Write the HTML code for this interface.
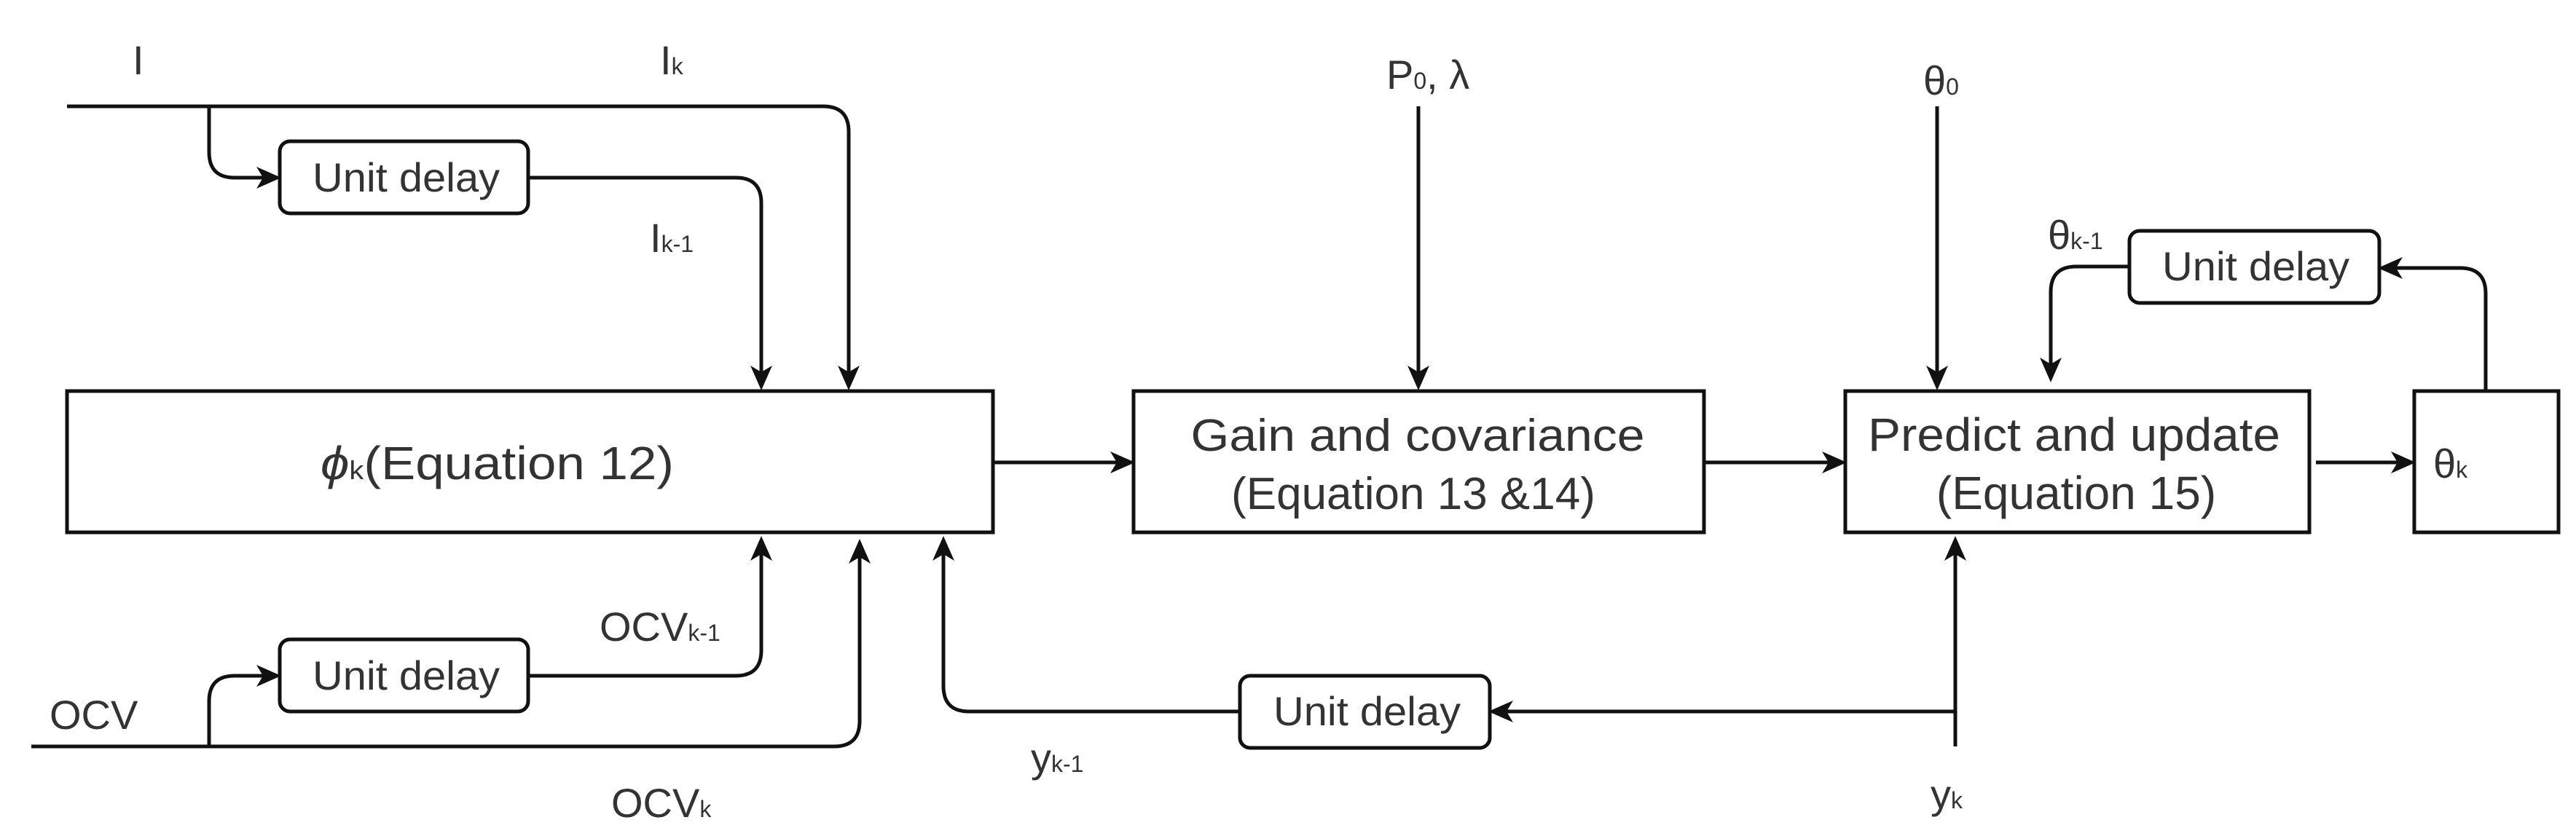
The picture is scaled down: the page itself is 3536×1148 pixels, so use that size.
<!DOCTYPE html>
<html><head><meta charset="utf-8"><style>
html,body{margin:0;padding:0;background:#fff}
svg{display:block}
text{font-family:"Liberation Sans",Arial,sans-serif;fill:#333}
</style></head><body>
<svg width="3536" height="1148" viewBox="0 0 3536 1148" xmlns="http://www.w3.org/2000/svg">
<g fill="none" stroke="#111" stroke-width="5">
<rect x="92" y="537" width="1271" height="194"/>
<rect x="1556" y="537" width="783" height="194"/>
<rect x="2533" y="537" width="637" height="194"/>
<rect x="3314" y="537" width="198" height="194"/>
<rect x="384" y="194" width="341" height="99" rx="14"/>
<rect x="384" y="878" width="341" height="99" rx="14"/>
<rect x="1702" y="928" width="343" height="99" rx="14"/>
<rect x="2923" y="317" width="343" height="99" rx="14"/>
<path d="M92 146 H1130 Q1165 146 1165 181 V512"/>
<path d="M287 146 V209 Q287 244 322 244 H362"/>
<path d="M725 244 H1010 Q1045 244 1045 279 V512"/>
<path d="M287 1025 V963 Q287 928 322 928 H362"/>
<path d="M43 1025 H1145 Q1180 1025 1180 990 V764"/>
<path d="M725 928 H1010 Q1045 928 1045 893 V760"/>
<path d="M1702 977 H1330 Q1295 977 1295 942 V760"/>
<path d="M2684 1025 V760"/>
<path d="M2684 977 H2067"/>
<path d="M1363 635 H1534"/>
<path d="M2339 635 H2511"/>
<path d="M3179 635 H3292"/>
<path d="M1947 146 V512"/>
<path d="M2659 146 V512"/>
<path d="M3412 537 V403 Q3412 368 3377 368 H3288"/>
<path d="M2923 366 H2850 Q2815 366 2815 401 V501"/>
</g>
<g fill="#111">
<polygon points="1165,536 1150,502 1165,511 1180,502"/>
<polygon points="1045,536 1030,502 1045,511 1060,502"/>
<polygon points="1947,536 1932,502 1947,511 1962,502"/>
<polygon points="2659,536 2644,502 2659,511 2674,502"/>
<polygon points="2815,525 2800,491 2815,500 2830,491"/>
<polygon points="1045,736 1030,770 1045,761 1060,770"/>
<polygon points="1180,740 1165,774 1180,765 1195,774"/>
<polygon points="1295,736 1280,770 1295,761 1310,770"/>
<polygon points="2684,736 2669,770 2684,761 2699,770"/>
<polygon points="386,244 352,229 361,244 352,259"/>
<polygon points="386,928 352,913 361,928 352,943"/>
<polygon points="1558,635 1524,620 1533,635 1524,650"/>
<polygon points="2535,635 2501,620 2510,635 2501,650"/>
<polygon points="3316,635 3282,620 3291,635 3282,650"/>
<polygon points="2043,977 2077,962 2068,977 2077,992"/>
<polygon points="3264,368 3298,353 3289,368 3298,383"/>
</g>
<g font-size="56">
<text x="429" y="263" textLength="257" lengthAdjust="spacingAndGlyphs">Unit delay</text>
<text x="429" y="947" textLength="257" lengthAdjust="spacingAndGlyphs">Unit delay</text>
<text x="1748" y="996" textLength="257" lengthAdjust="spacingAndGlyphs">Unit delay</text>
<text x="2968" y="385" textLength="257" lengthAdjust="spacingAndGlyphs">Unit delay</text>
</g>
<text x="440" y="658" font-size="64" textLength="485" lengthAdjust="spacingAndGlyphs"><tspan font-style="italic">ϕ</tspan><tspan font-size="36">k</tspan>(Equation 12)</text>
<text x="1946" y="619" font-size="62" text-anchor="middle" textLength="623" lengthAdjust="spacingAndGlyphs">Gain and covariance</text>
<text x="1940" y="699" font-size="62" text-anchor="middle">(Equation 13 &amp;14)</text>
<text x="2847" y="619" font-size="64" text-anchor="middle" textLength="566" lengthAdjust="spacingAndGlyphs">Predict and update</text>
<text x="2850" y="699" font-size="64" text-anchor="middle">(Equation 15)</text>
<text x="3340" y="656" font-size="56">θ<tspan font-size="32">k</tspan></text>
<g font-size="56">
<text x="182" y="102">I</text>
<text x="906" y="102">I<tspan font-size="32">k</tspan></text>
<text x="892" y="346">I<tspan font-size="32">k-1</tspan></text>
<text x="68" y="1001">OCV</text>
<text x="823" y="880">OCV<tspan font-size="32">k-1</tspan></text>
<text x="839" y="1122">OCV<tspan font-size="32">k</tspan></text>
<text x="1415" y="1060">y<tspan font-size="32">k-1</tspan></text>
<text x="2650" y="1110">y<tspan font-size="32">k</tspan></text>
<text x="1903" y="122">P<tspan font-size="32">0</tspan>, λ</text>
<text x="2640" y="130">θ<tspan font-size="32">0</tspan></text>
<text x="2811" y="342">θ<tspan font-size="32">k-1</tspan></text>
</g>
</svg>
</body></html>
